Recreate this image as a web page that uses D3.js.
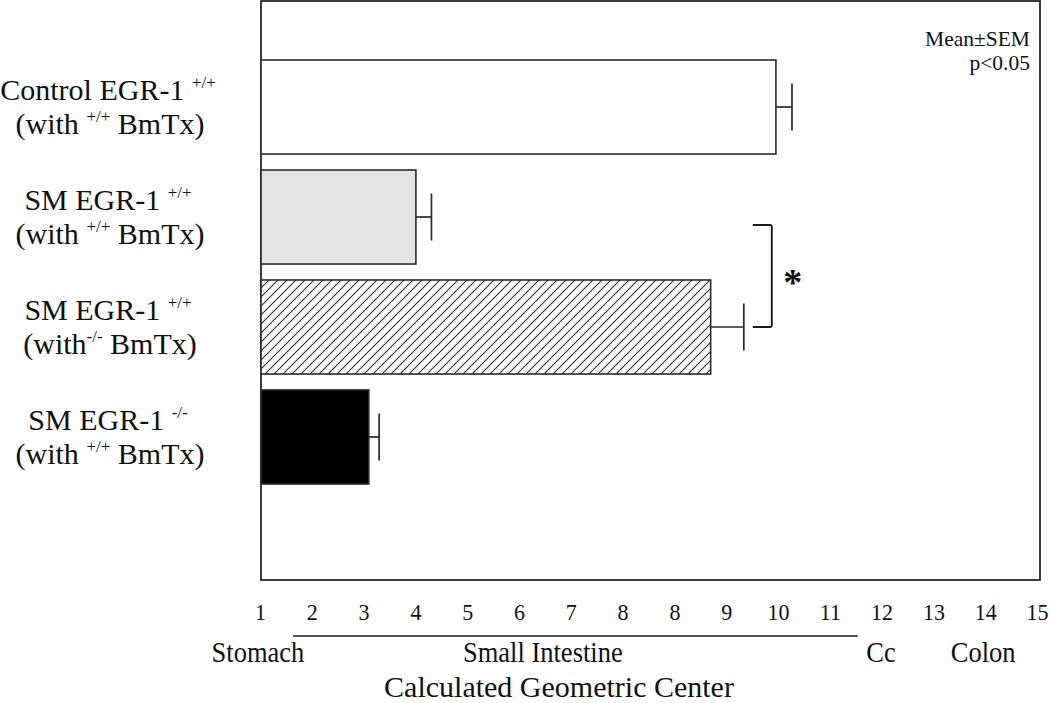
<!DOCTYPE html>
<html>
<head>
<meta charset="utf-8">
<script src="https://cdn.jsdelivr.net/npm/d3@7"></script>
<style>
  html, body { margin: 0; padding: 0; background: #fff; }
  svg { display: block; }
  text { font-family: "Liberation Serif", "Times New Roman", serif; fill: #111; }
</style>
</head>
<body>
<svg id="chart" width="1050" height="703"></svg>
<script>
// ---- data ----
const categories = [
  "Control EGR-1 +/+ (with +/+ BmTx)",
  "SM EGR-1 +/+ (with +/+ BmTx)",
  "SM EGR-1 +/+ (with -/- BmTx)",
  "SM EGR-1 -/- (with +/+ BmTx)"
];
const labelLine1 = [["Control EGR-1 ", "+/+"], ["SM EGR-1 ", "+/+"], ["SM EGR-1 ", "+/+"], ["SM EGR-1 ", "-/-"]];
const labelLine2 = [["(with ", "+/+", " BmTx)"], ["(with ", "+/+", " BmTx)"], ["(with", "-/-", " BmTx)"], ["(with ", "+/+", " BmTx)"]];
const means = [10.96, 4.01, 9.70, 3.10];   // in axis position units
const sems = [0.31, 0.30, 0.64, 0.20];
const fills = ["#ffffff", "#e3e3e3", "url(#hatch)", "#000000"];
const tickPositions = [1, 2, 3, 4, 5, 6, 7, 8, 9, 10, 11, 12, 13, 14, 15, 16];
const tickLabels = ["1", "2", "3", "4", "5", "6", "7", "8", "8", "9", "10", "11", "12", "13", "14", "15"];
const regionNames = ["Stomach", "Small Intestine", "Cc", "Colon"];
const regionCenters = [0.96, 6.46, 12.99, 14.96];
const smallIntestineSpan = [1.64, 12.54];
const sigPair = [1, 2];

// ---- layout ----
const svg = d3.select("#chart");
const frame = { left: 261, top: 1, right: 1040, bottom: 580 };
const SY = 1.08; // slight vertical stretch of the serif lettering

const x = d3.scaleLinear().domain([1, 16]).range([260, 1037]);
const y = d3.scaleBand().domain(categories).range([52, 492]).paddingInner(0.145).paddingOuter(0.0727);

function stext(parent, px, py, size, anchor, sy) {
  return parent.append("text")
    .attr("transform", `translate(${px},${py}) scale(1,${sy || 1})`)
    .attr("text-anchor", anchor || "middle").attr("font-size", size);
}

const defs = svg.append("defs");
const pat = defs.append("pattern").attr("id", "hatch").attr("patternUnits", "userSpaceOnUse")
  .attr("width", 9).attr("height", 9);
pat.append("rect").attr("width", 9).attr("height", 9).attr("fill", "#fff");
pat.append("path").attr("d", "M0,9 L9,0 M-2,2 L2,-2 M7,11 L11,7")
  .attr("stroke", "#2a2a2a").attr("stroke-width", 1.05);

// frame
svg.append("rect").attr("x", frame.left).attr("y", frame.top)
  .attr("width", frame.right - frame.left).attr("height", frame.bottom - frame.top)
  .attr("fill", "#fff").attr("stroke", "#1a1a1a").attr("stroke-width", 1.7);

// bars
svg.append("g").selectAll("rect").data(categories).join("rect")
  .attr("x", x(1) + 1)
  .attr("y", d => y(d))
  .attr("width", (d, i) => x(means[i]) - x(1) - 1)
  .attr("height", y.bandwidth())
  .attr("fill", (d, i) => fills[i])
  .attr("stroke", "#2a2a2a").attr("stroke-width", 1.6);

// error bars
const eb = svg.append("g").attr("stroke", "#2a2a2a").attr("stroke-width", 1.7).attr("fill", "none");
categories.forEach((c, i) => {
  const cy = y(c) + y.bandwidth() / 2;
  const half = y.bandwidth() / 4;
  eb.append("line").attr("x1", x(means[i])).attr("x2", x(means[i] + sems[i])).attr("y1", cy).attr("y2", cy);
  eb.append("line").attr("x1", x(means[i] + sems[i])).attr("x2", x(means[i] + sems[i]))
    .attr("y1", cy - half).attr("y2", cy + half);
});

// significance bracket
{
  const c1 = categories[sigPair[0]], c2 = categories[sigPair[1]];
  const yTop = y(c1) + y.bandwidth() / 2 + 8;
  const yBot = y(c2) + y.bandwidth() / 2;
  const xr = d3.max(sigPair, i => x(means[i] + sems[i]));
  const xa = xr + 9, xb = xr + 28;
  svg.append("path")
    .attr("d", `M${xa},${yTop} L${xb - 2},${yTop} Q${xb},${yTop} ${xb},${yTop + 2} L${xb},${yBot - 2} Q${xb},${yBot} ${xb - 2},${yBot} L${xa},${yBot}`)
    .attr("fill", "none").attr("stroke", "#1a1a1a").attr("stroke-width", 1.9);
  svg.append("text").attr("x", xb + 21).attr("y", (yTop + yBot) / 2 + 19)
    .attr("text-anchor", "middle").attr("font-size", 38).attr("font-weight", "bold").text("*");
}

// category labels
categories.forEach((c, i) => {
  const cy = y(c) + y.bandwidth() / 2;
  const t1 = stext(svg, 108, cy - 7, 30);
  t1.append("tspan").text(labelLine1[i][0]);
  t1.append("tspan").attr("font-size", 17).attr("dy", -12).text(labelLine1[i][1]);
  const t2 = stext(svg, 110, cy + 27, 30);
  t2.append("tspan").text(labelLine2[i][0]);
  t2.append("tspan").attr("font-size", 17).attr("dy", -12).text(labelLine2[i][1]);
  t2.append("tspan").attr("dy", 12).text(labelLine2[i][2]);
});

// x tick labels (no axis line / ticks)
const xAxis = d3.axisBottom(x).tickValues(tickPositions).tickSize(0).tickPadding(0)
  .tickFormat((d, i) => tickLabels[i]);
const gx = svg.append("g").attr("transform", "translate(0,603)").call(xAxis);
gx.select(".domain").remove();
gx.selectAll("text").attr("font-size", 22).attr("fill", "#111")
  .attr("transform", `scale(1,${SY})`)
  .style("font-family", "'Liberation Serif', 'Times New Roman', serif");

// region line and labels
svg.append("line").attr("x1", x(smallIntestineSpan[0])).attr("x2", x(smallIntestineSpan[1]))
  .attr("y1", 636).attr("y2", 636).attr("stroke", "#1a1a1a").attr("stroke-width", 1.5);
regionNames.forEach((d, i) => {
  stext(svg, x(regionCenters[i]), 662, 26.5, "middle", SY).text(d);
});

stext(svg, 559, 697, 30).text("Calculated Geometric Center");

// annotation
stext(svg, 1030, 46, 21.5, "end").text("Mean±SEM");
stext(svg, 1030, 70, 21.5, "end").text("p<0.05");
</script>
</body>
</html>
